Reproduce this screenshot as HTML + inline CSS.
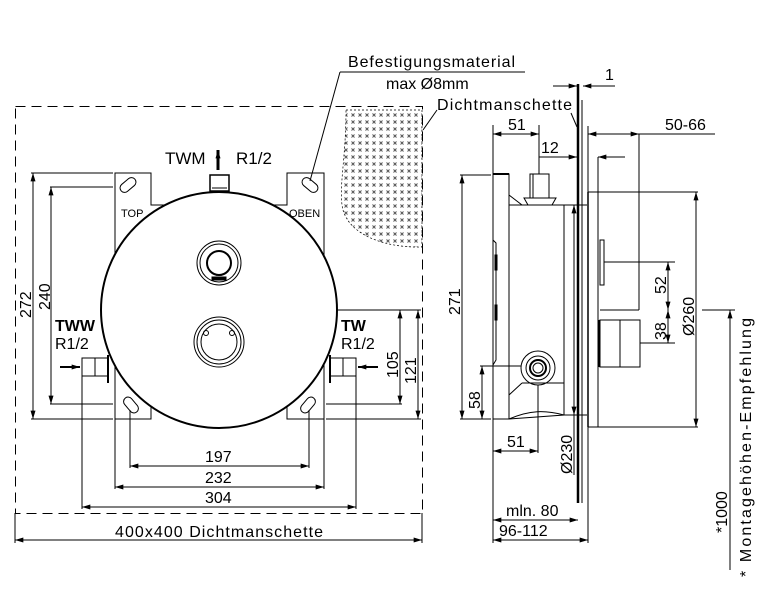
<!DOCTYPE html>
<html><head><meta charset="utf-8"><style>
html,body{margin:0;padding:0;background:#fff}
svg{display:block}
text{font-family:"Liberation Sans",Arial,sans-serif;fill:#000}
</style></head><body>
<svg width="766" height="613" viewBox="0 0 766 613" xmlns="http://www.w3.org/2000/svg">
<defs>
<marker id="a" viewBox="0 0 10 6" refX="10" refY="3" markerWidth="10" markerHeight="5" orient="auto-start-reverse" markerUnits="userSpaceOnUse"><path d="M0,0 L10,3 L0,6 z" fill="#000"/></marker>
<pattern id="h" width="7" height="7" patternUnits="userSpaceOnUse"><path d="M1.5,1.5 L4.5,4.5 M4.5,1.5 L1.5,4.5" stroke="#555" stroke-width="1"/></pattern>
</defs>
<g stroke="#000" fill="none" stroke-width="1">
<rect x="15.5" y="106.5" width="407" height="407" stroke-dasharray="10,6"/>
<path d="M346,110 L422,110 L422,247 C385,248 350,235 343,210 C338,190 346,160 346,110 z" fill="url(#h)" stroke="#000" stroke-width="0.7" stroke-dasharray="2,2"/>
<path d="M115,419 L115,173 L151,173 L151,205 L175,205" />
<path d="M324,419 L324,173 L287,173 L287,205 L263,205"/>
<path d="M115,419 L151,419 L151,395"/>
<path d="M324,419 L287,419 L287,395"/>
<g transform="translate(128,185) rotate(-40)"><rect x="-9" y="-4.5" width="18" height="9" rx="4.5"/></g>
<g transform="translate(310,185) rotate(40)"><rect x="-9" y="-4.5" width="18" height="9" rx="4.5"/></g>
<g transform="translate(131,405) rotate(50)"><rect x="-9" y="-4.5" width="18" height="9" rx="4.5"/></g>
<g transform="translate(308,405) rotate(-50)"><rect x="-9" y="-4.5" width="18" height="9" rx="4.5"/></g>
<circle cx="219" cy="310" r="118" fill="#fff" stroke-width="2"/>
<rect x="210" y="175" width="19" height="16" stroke-width="1.5" fill="#fff"/>
<line x1="212" y1="188" x2="227" y2="188"/>
<circle cx="219" cy="263" r="22"/><circle cx="219" cy="263" r="19"/><circle cx="219" cy="263" r="12" stroke-width="2"/>
<rect x="212" y="277" width="14" height="3" fill="#000"/>
<circle cx="219" cy="342" r="25"/><circle cx="219" cy="342" r="22"/><circle cx="219" cy="342" r="18"/>
<circle cx="206" cy="333" r="2.5"/><circle cx="232" cy="333" r="2.5"/>
<rect x="82" y="358" width="26" height="18"/><line x1="95" y1="358" x2="95" y2="376"/>
<line x1="108" y1="355" x2="108" y2="383" stroke-width="2"/>
<rect x="330" y="358" width="26" height="18"/><line x1="343" y1="358" x2="343" y2="376"/>
<line x1="330" y1="355" x2="330" y2="383" stroke-width="2"/>
<line x1="60" y1="367" x2="80" y2="367" stroke-width="2" marker-end="url(#a)"/>
<line x1="378" y1="367" x2="358" y2="367" stroke-width="2" marker-end="url(#a)"/>
<line x1="218" y1="170" x2="218" y2="150" stroke-width="3" marker-end="url(#a)"/>
<line x1="31" y1="173" x2="113" y2="173"/><line x1="31" y1="419" x2="113" y2="419"/>
<line x1="33" y1="173" x2="33" y2="419" marker-start="url(#a)" marker-end="url(#a)"/>
<line x1="50" y1="187" x2="113" y2="187"/><line x1="50" y1="404" x2="113" y2="404"/>
<line x1="51" y1="187" x2="51" y2="404" marker-start="url(#a)" marker-end="url(#a)"/>
<line x1="338" y1="310" x2="421" y2="310"/><line x1="326" y1="404" x2="402" y2="404"/><line x1="326" y1="419" x2="421" y2="419"/>
<line x1="400" y1="310" x2="400" y2="404" marker-start="url(#a)" marker-end="url(#a)"/>
<line x1="418" y1="310" x2="418" y2="419" marker-start="url(#a)" marker-end="url(#a)"/>
<line x1="82" y1="376" x2="82" y2="509"/><line x1="356" y1="376" x2="356" y2="509"/>
<line x1="115" y1="419" x2="115" y2="489"/><line x1="324" y1="419" x2="324" y2="489"/>
<line x1="130" y1="410" x2="130" y2="468"/><line x1="309" y1="410" x2="309" y2="468"/>
<line x1="130" y1="466" x2="309" y2="466" marker-start="url(#a)" marker-end="url(#a)"/>
<line x1="115" y1="487" x2="324" y2="487" marker-start="url(#a)" marker-end="url(#a)"/>
<line x1="82" y1="507" x2="356" y2="507" marker-start="url(#a)" marker-end="url(#a)"/>
<line x1="15" y1="513" x2="15" y2="543"/><line x1="422" y1="513" x2="422" y2="543"/>
<line x1="15" y1="540" x2="422" y2="540" marker-start="url(#a)" marker-end="url(#a)"/>
<line x1="340" y1="72" x2="525" y2="72"/>
<line x1="340" y1="72" x2="310" y2="181"/>
<line x1="437" y1="110" x2="423" y2="130"/>
<line x1="571" y1="113" x2="577" y2="127"/>
<line x1="578" y1="84" x2="578" y2="503" stroke-width="2.5"/>
<line x1="582" y1="100" x2="582" y2="503"/>
<line x1="553" y1="86" x2="577" y2="86" marker-end="url(#a)"/>
<line x1="612" y1="86" x2="583" y2="86" marker-end="url(#a)"/>
<line x1="595" y1="86" x2="615" y2="86"/>
<path d="M493,174 L509,174 L509,419 L493,419 z"/>
<path d="M493,174 L493,240 L496,243 L496,360 L493,365 L493,419"/>
<rect x="495" y="255" width="2" height="15"/><rect x="495" y="305" width="2" height="15"/>
<path d="M509,205 L564,205 L564,415 L509,419"/>
<path d="M509,419 C530,410 545,410 564,415"/>
<path d="M509,195 L522,205 M509,395 L522,383 M522,383 L564,383"/>
<line x1="564" y1="205" x2="587" y2="205"/><line x1="564" y1="415" x2="587" y2="415"/>
<rect x="530" y="174" width="19" height="24" fill="#fff"/>
<line x1="533" y1="174" x2="533" y2="198"/>
<path d="M524,198 L556,198 L552,205 L528,205 z"/>
<line x1="493" y1="174" x2="509" y2="174" stroke-width="2"/>
<circle cx="538" cy="368" r="17"/><circle cx="538" cy="368" r="12"/><circle cx="538" cy="368" r="8" stroke-width="2"/><circle cx="538" cy="368" r="5"/>
<line x1="588" y1="192" x2="588" y2="427" stroke-width="1.5"/>
<line x1="588" y1="192" x2="698" y2="192"/>
<line x1="588" y1="427" x2="698" y2="427"/>
<line x1="598" y1="157" x2="598" y2="427"/>
<line x1="598" y1="157" x2="625" y2="157" marker-start="url(#a)"/>
<rect x="600" y="240" width="4" height="45"/>
<rect x="600" y="320" width="40" height="47"/><line x1="620" y1="320" x2="620" y2="367"/>
<line x1="599" y1="320" x2="599" y2="367" stroke-width="2.5"/>
<line x1="460" y1="175" x2="491" y2="175"/><line x1="460" y1="419" x2="491" y2="419"/>
<line x1="462" y1="175" x2="462" y2="419" marker-start="url(#a)" marker-end="url(#a)"/>
<line x1="480" y1="366" x2="521" y2="366"/>
<line x1="482" y1="366" x2="482" y2="419" marker-start="url(#a)" marker-end="url(#a)"/>
<line x1="493" y1="125" x2="493" y2="174"/><line x1="539" y1="125" x2="539" y2="174"/>
<line x1="493" y1="134" x2="539" y2="134" marker-start="url(#a)" marker-end="url(#a)"/>
<line x1="539" y1="157" x2="577" y2="157" marker-end="url(#a)"/>
<line x1="574" y1="205" x2="574" y2="415" marker-start="url(#a)" marker-end="url(#a)"/>
<line x1="574" y1="415" x2="574" y2="475"/>
<line x1="588" y1="126" x2="588" y2="192"/>
<line x1="639" y1="134" x2="639" y2="310"/>
<line x1="588" y1="134" x2="639" y2="134" marker-start="url(#a)" marker-end="url(#a)"/>
<line x1="639" y1="134" x2="715" y2="134"/>
<line x1="696" y1="192" x2="696" y2="427" marker-start="url(#a)" marker-end="url(#a)"/>
<line x1="604" y1="262" x2="675" y2="262"/>
<line x1="600" y1="310" x2="639" y2="310"/>
<line x1="640" y1="343" x2="675" y2="343"/>
<line x1="668" y1="262" x2="668" y2="310" marker-start="url(#a)" marker-end="url(#a)"/>
<line x1="668" y1="310" x2="668" y2="343" marker-start="url(#a)" marker-end="url(#a)"/>
<line x1="702" y1="310" x2="735" y2="310"/>
<line x1="730" y1="310" x2="730" y2="570" marker-start="url(#a)"/>
<line x1="493" y1="419" x2="493" y2="543"/><line x1="588" y1="427" x2="588" y2="543"/>
<line x1="538" y1="385" x2="538" y2="453"/>
<line x1="493" y1="451" x2="538" y2="451" marker-start="url(#a)" marker-end="url(#a)"/>
<line x1="493" y1="520" x2="578" y2="520" marker-start="url(#a)" marker-end="url(#a)"/>
<line x1="493" y1="540" x2="588" y2="540" marker-start="url(#a)" marker-end="url(#a)"/>
</g>
<g font-size="16">
<text x="348" y="67" textLength="167">Befestigungsmaterial</text>
<text x="386" y="89">max Ø8mm</text>
<text x="437" y="110" textLength="135">Dichtmanschette</text>
<text x="605" y="80">1</text>
<text x="508" y="130">51</text>
<text x="541" y="153">12</text>
<text x="665" y="130">50-66</text>
<text x="165" y="164" font-size="17">TWM</text>
<text x="236" y="164" font-size="17">R1/2</text>
<text x="121" y="217" font-size="11">TOP</text>
<text x="289" y="217" font-size="11">OBEN</text>
<text x="55" y="331" font-size="16" font-weight="bold">TWW</text>
<text x="55" y="349" font-size="16">R1/2</text>
<text x="341" y="331" font-size="16" font-weight="bold">TW</text>
<text x="341" y="349" font-size="16">R1/2</text>
<text x="205" y="462">197</text>
<text x="205" y="483">232</text>
<text x="205" y="503">304</text>
<text x="115" y="537" textLength="208">400x400  Dichtmanschette</text>
<text x="507" y="447">51</text>
<text x="506" y="516">mln. 80</text>
<text x="499" y="536">96-112</text>
<text transform="translate(31,318) rotate(-90)">272</text>
<text transform="translate(50,310) rotate(-90)">240</text>
<text transform="translate(398,378) rotate(-90)">105</text>
<text transform="translate(416,384) rotate(-90)">121</text>
<text transform="translate(460,315) rotate(-90)">271</text>
<text transform="translate(480,409) rotate(-90)">58</text>
<text transform="translate(572,474) rotate(-90)">Ø230</text>
<text transform="translate(666,294) rotate(-90)">52</text>
<text transform="translate(666,340) rotate(-90)">38</text>
<text transform="translate(694,336) rotate(-90)">Ø260</text>
<text transform="translate(727,533) rotate(-90)">*1000</text>
<text transform="translate(751,577) rotate(-90)" textLength="259">*  Montagehöhen-Empfehlung</text>
</g>
</svg>
</body></html>
